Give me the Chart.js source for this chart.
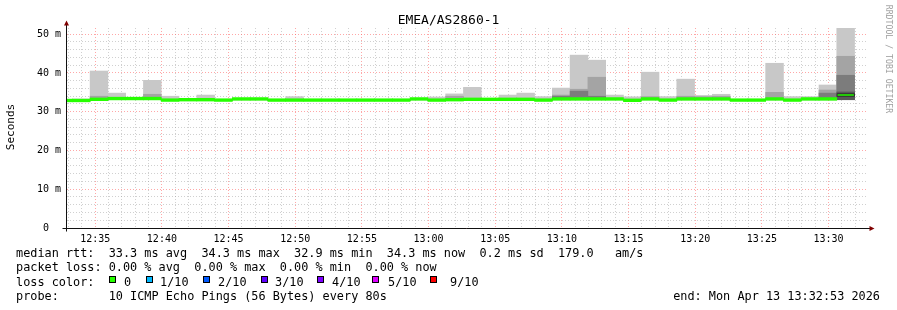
<!DOCTYPE html>
<html>
<head>
<meta charset="utf-8">
<title>EMEA/AS2860-1</title>
<script src="https://cdn.jsdelivr.net/npm/chart.js@4"></script>
<style>
  body { margin: 0; background: #fff; }
  #graph { position: relative; width: 897px; height: 310px; overflow: hidden;
           font-family: "DejaVu Sans Mono", monospace; color: #000; }
  #graph canvas { position: absolute; left: 0; top: 0; }
  .txt { position: absolute; white-space: pre; line-height: 0; }
  .legend { font-size: 11.85px; }
  .box { position: absolute; width: 5px; height: 5px; border: 1px solid #000; }
  .rot { position: absolute; white-space: pre; text-align: center; }
</style>
</head>
<body>
<div id="graph">
  <canvas id="chart" width="897" height="310"></canvas>
  <div class="txt" style="left:0;width:897px;text-align:center;top:19.5px;font-size:13px">EMEA/AS2860-1</div>
  <div class="rot" style="left:-39px;top:121px;width:100px;height:12px;line-height:12px;font-size:11px;transform:rotate(-90deg)">Seconds</div>
  <div class="rot" style="left:828.5px;top:54px;width:120px;height:10px;line-height:10px;font-size:8.2px;color:#a0a0a0;transform:rotate(90deg)">RRDTOOL / TOBI OETIKER</div>
  <div class="txt legend" style="left:16px;top:253.2px">median rtt:  33.3 ms avg  34.3 ms max  32.9 ms min  34.3 ms now  0.2 ms sd  179.0   am/s</div>
  <div class="txt legend" style="left:16px;top:267.4px">packet loss: 0.00 % avg  0.00 % max  0.00 % min  0.00 % now</div>
  <div class="txt legend" style="left:16px;top:281.6px">loss color:</div>
  <div id="losslegend"></div>
  <div class="txt legend" style="left:16px;top:295.5px">probe:       10 ICMP Echo Pings (56 Bytes) every 80s</div>
  <div class="txt legend" style="right:17px;top:295.5px">end: Mon Apr 13 13:32:53 2026</div>
</div>
<script>
// start time of each 80 s bin
const binStart = ['12:31:57','12:33:17','12:34:37','12:35:57','12:37:17','12:38:37','12:39:57','12:41:17','12:42:37',
  '12:43:57','12:45:17','12:46:37','12:47:57','12:49:17','12:50:37','12:51:57','12:53:17','12:54:37','12:55:57',
  '12:57:17','12:58:37','12:59:57','13:01:17','13:02:37','13:03:57','13:05:17','13:06:37','13:07:57','13:09:17',
  '13:10:37','13:11:57','13:13:17','13:14:37','13:15:57','13:17:17','13:18:37','13:19:57','13:21:17','13:22:37',
  '13:23:57','13:25:17','13:26:37','13:27:57','13:29:17','13:30:37'];

// median rtt per bin (ms)
const median = [32.9, 32.9, 33.2, 33.4, 33.4, 33.4, 33.0, 33.1, 33.1, 33.0, 33.3, 33.3,
  33.0, 33.0, 33.0, 33.0, 33.0, 33.0, 33.0, 33.0, 33.3, 33.0, 33.1, 33.2,
  33.2, 33.2, 33.2, 33.0, 33.3, 33.3, 33.3, 33.3, 32.95, 33.3, 33.0, 33.3,
  33.3, 33.3, 33.0, 33.0, 33.3, 33.0, 33.3, 33.3, 34.3];

// lowest ping per bin (bottom of the smoke)
const pingMin = [32.8, 32.8, 33.0, 33.2, 33.2, 33.2, 32.9, 33.0, 33.0, 32.9, 33.1, 33.1,
  32.9, 32.9, 32.9, 32.9, 32.9, 32.9, 32.9, 32.9, 33.1, 32.9, 33.0, 33.0,
  33.0, 33.0, 33.0, 32.9, 33.1, 33.1, 33.1, 33.1, 32.9, 33.1, 32.9, 33.1,
  33.1, 33.1, 32.9, 32.9, 33.1, 32.9, 33.1, 33.1, 33.1];

// smoke layer tops, lightest (highest ping) to darkest
const pingMax = [null, 33.3, 40.5, 34.8, null, 38.1, 34.0, null, 34.3, null, null, null,
  null, 33.9, null, null, null, null, null, null, null, 33.8, 34.6, 36.3,
  null, 34.3, 34.8, 33.9, 36.1, 44.6, 43.3, 34.3, 33.85, 40.2, 33.9, 38.4,
  34.2, 34.5, null, null, 42.5, 33.9, 33.9, 36.9, 51.5];
const ping2 = [null, null, 34.0, null, null, 34.5, null, null, null, null, null, null,
  null, null, null, null, null, null, null, null, null, null, 34.0, null,
  null, null, null, null, 34.3, 35.8, 38.9, null, null, 33.9, null, 34.0,
  33.9, 34.0, null, null, 35.0, null, null, 35.6, 44.3];
const ping3 = [null, null, null, null, null, null, null, null, null, null, null, null,
  null, null, null, null, null, null, null, null, null, null, null, null,
  null, null, null, null, 34.0, 35.3, 34.0, null, null, null, null, null,
  null, null, null, null, null, null, null, 34.8, 39.4];
const ping4 = [null, null, null, null, null, null, null, null, null, null, null, null,
  null, null, null, null, null, null, null, null, null, null, null, null,
  null, null, null, null, null, null, null, null, null, null, null, null,
  null, null, null, null, null, null, null, null, 35.1];

const lossLabels = ['0', '1/10', '2/10', '3/10', '4/10', '5/10', '9/10'];
const lossColors = ['#26ff00', '#00b8ff', '#0059ff', '#5e00ff', '#7e00ff', '#dd00ff', '#ff0000'];

// loss colour legend
const boxLeft = [109, 146, 203, 261, 317, 372, 430];
const labelLeft = [124, 160, 218, 275, 332, 388, 450];
const ll = document.getElementById('losslegend');
lossLabels.forEach((lab, i) => {
  const b = document.createElement('div');
  b.className = 'box';
  b.style.cssText = 'left:' + boxLeft[i] + 'px;top:276px;background:' + lossColors[i];
  ll.appendChild(b);
  const t = document.createElement('div');
  t.className = 'txt legend';
  t.style.cssText = 'left:' + labelLeft[i] + 'px;top:281.6px';
  t.textContent = lab;
  ll.appendChild(t);
});

const toSec = s => { const p = s.split(':').map(Number); return (p[0] - 12) * 3600 + p[1] * 60 + p[2]; };
const fmt = v => { const h = 12 + Math.floor(v / 3600), m = Math.floor(v % 3600 / 60); return h + ':' + String(m).padStart(2, '0'); };
const STEP = 80;
const centres = binStart.map(s => toSec(s) + STEP / 2);
const xMin = toSec('12:32:53'), xMax = toSec('13:32:53');

const MAJOR = 'rgba(255,95,95,0.55)';
const MINOR = 'rgba(150,150,150,0.45)';
const FONT = { family: 'DejaVu Sans Mono', size: 10 };

function layer(tops) {
  return centres.map((x, i) => ({ x, y: [pingMin[i], tops[i] == null ? pingMin[i] : tops[i]] }));
}
// all bars share one stack slot so they overlap at full bin width
const barBase = { type: 'bar', stack: 'bin', barThickness: 'flex', categoryPercentage: 1, barPercentage: 1, borderWidth: 0, clip: 0 };

const axisArrows = {
  id: 'axisArrows',
  afterDraw(chart) {
    const { ctx, chartArea: a } = chart;
    const x0 = a.left - 0.5, y0 = a.bottom + 0.5;
    ctx.save();
    ctx.strokeStyle = '#111';
    ctx.lineWidth = 1;
    ctx.beginPath();
    ctx.moveTo(x0 - 4, y0); ctx.lineTo(a.right + 3, y0);
    ctx.moveTo(x0, y0 + 3); ctx.lineTo(x0, a.top - 3);
    ctx.stroke();
    ctx.fillStyle = '#800000';
    ctx.beginPath();
    ctx.moveTo(a.right + 2.5, y0 - 2.5); ctx.lineTo(a.right + 7.5, y0); ctx.lineTo(a.right + 2.5, y0 + 2.5);
    ctx.closePath(); ctx.fill();
    ctx.beginPath();
    ctx.moveTo(x0 - 2.5, a.top - 2.5); ctx.lineTo(x0, a.top - 7.5); ctx.lineTo(x0 + 2.5, a.top - 2.5);
    ctx.closePath(); ctx.fill();
    ctx.restore();
  }
};

new Chart(document.getElementById('chart'), {
  type: 'bar',
  data: {
    datasets: [
      Object.assign({}, barBase, {
        data: centres.map((x, i) => ({ x, y: [median[i] - 0.35, median[i] + 0.35] })),
        backgroundColor: lossColors[0],
        borderColor: '#222',
        borderSkipped: false,
        borderWidth: c => c.dataIndex === median.length - 1 ? 1 : 0,
        order: 0
      }),
      Object.assign({}, barBase, { data: layer(ping4), backgroundColor: '#585858', order: 1 }),
      Object.assign({}, barBase, { data: layer(ping3), backgroundColor: '#7c7c7c', order: 2 }),
      Object.assign({}, barBase, { data: layer(ping2), backgroundColor: '#a4a4a4', order: 3 }),
      Object.assign({}, barBase, { data: layer(pingMax), backgroundColor: '#c8c8c8', order: 4 })
    ]
  },
  options: {
    responsive: false,
    animation: false,
    events: [],
    layout: { padding: { top: 28, right: 30, left: 0, bottom: 0 } },
    plugins: { legend: { display: false }, tooltip: { enabled: false } },
    scales: {
      x: {
        type: 'linear', min: xMin, max: xMax, z: 1, offset: false,
        afterBuildTicks: s => {
          const t = [];
          for (let v = Math.ceil(xMin / 60) * 60; v <= xMax; v += 60) t.push({ value: v });
          s.ticks = t;
        },
        afterFit: s => { s.height = 82; },
        grid: { offset: false, drawTicks: false, color: c => c.tick && c.tick.value % 300 === 0 ? MAJOR : MINOR },
        border: { display: false, dash: [1, 2] },
        ticks: { autoSkip: false, maxRotation: 0, minRotation: 0, padding: 5, color: '#000', font: FONT,
                 callback: v => v % 300 === 0 ? fmt(v) : '' }
      },
      y: {
        type: 'linear', min: 0, max: 51.6, z: 1, stacked: false, beginAtZero: true,
        afterFit: s => { s.width = 67; },
        grid: { drawTicks: false, color: c => c.tick && c.tick.value % 10 === 0 ? MAJOR : MINOR },
        border: { display: false, dash: [1, 2] },
        ticks: { stepSize: 2, includeBounds: false, autoSkip: false, padding: 6, color: '#000', font: FONT,
                 callback: v => v % 10 ? '' : (v === 0 ? '0  ' : v + ' m') }
      }
    }
  },
  plugins: [axisArrows]
});
</script>
</body>
</html>
